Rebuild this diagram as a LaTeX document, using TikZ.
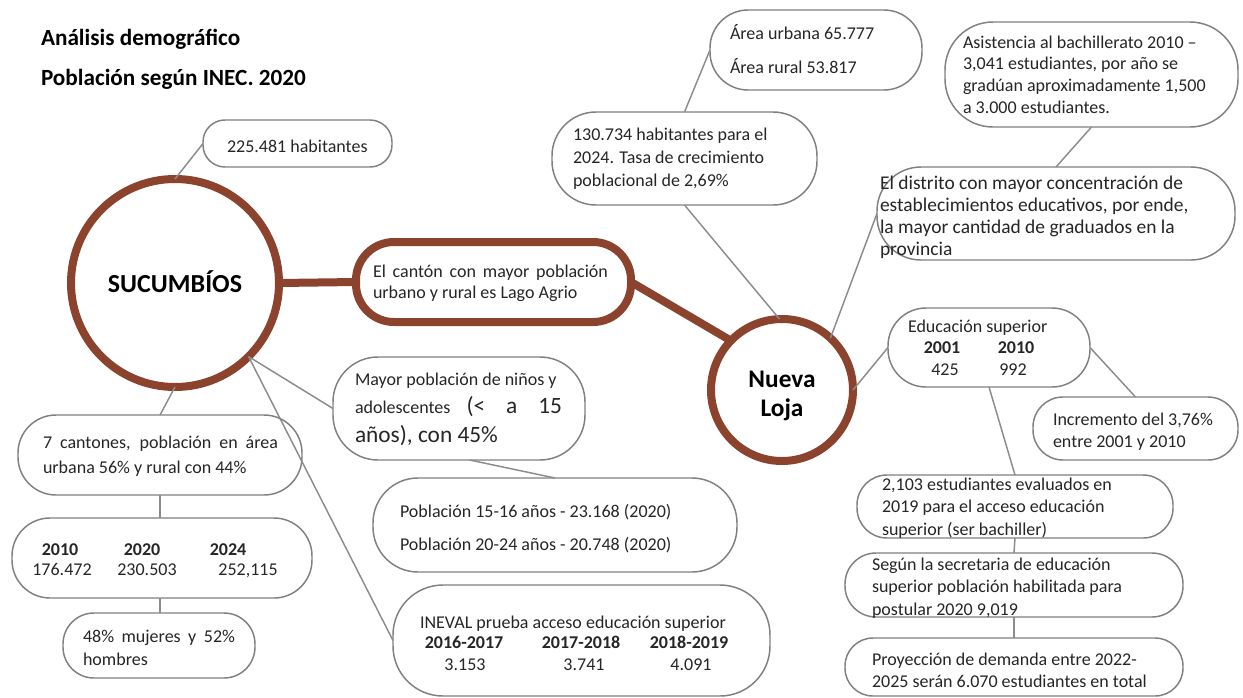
\documentclass[tikz,border=0pt]{standalone}
\usepackage{fontspec}
\setmainfont{Carlito}
\definecolor{brn}{RGB}{139,67,46}
\definecolor{bgray}{RGB}{128,128,128}
\definecolor{lgray}{RGB}{140,140,140}
\definecolor{txt}{RGB}{38,38,38}
\newcommand{\txtblock}[2]{\parbox[t]{330pt}{\fontsize{13.5}{#1}\selectfont\raggedright #2}}
\tikzset{
  bx/.style={draw=bgray, line width=1.1pt, rounded corners=#1, inner sep=0pt, outer sep=0pt},
  conn/.style={draw=lgray, line width=1.1pt},
  brownline/.style={draw=brn, line width=6pt},
  bigcirc/.style={circle, draw=brn, line width=6pt, inner sep=0pt, outer sep=0pt},
  tx/.style={inner sep=0pt, outer sep=0pt, anchor=base west, text=txt, font=\fontsize{13.5}{16}\selectfont},
  ctx/.style={tx, anchor=base},
  ttl/.style={inner sep=0pt, outer sep=0pt, anchor=base west, text=black, font=\fontsize{17.4}{20}\selectfont\bfseries},
}
\begin{document}
\begin{tikzpicture}[x=0.75pt,y=-0.75pt]
\fill[white] (0,0) rectangle (1243,697);
\useasboundingbox (0,0) rectangle (1243,697);

% titles
\node[ttl] (ti1) at (41,45) {Análisis demográfico};
\node[ttl] (ti2) at (41,85) {Población según INEC. 2020};

% main circles and brown box
\node[bigcirc, minimum size=156pt] (suc) at (175,283) {};
\node[bigcirc, minimum size=106.5pt] (nl) at (782,390) {};
\node[bx=28.5pt, draw=brn, line width=6pt, minimum width=206.25pt, minimum height=60pt] (lago) at (493.5,282) {};

% boxes
\node[bx=16.5pt, minimum width=141.75pt, minimum height=35.25pt] (b225) at (297.5,143.5) {};
\node[bx=33pt, minimum width=198.75pt, minimum height=69.75pt] (b130) at (684.5,158.5) {};
\node[bx=28.5pt, minimum width=159pt, minimum height=60pt] (barea) at (816,50) {};
\node[bx=36pt, minimum width=219.75pt, minimum height=78.75pt] (basist) at (1091.5,74.5) {};
\node[bx=33pt, minimum width=268.5pt, minimum height=69.75pt] (bdist) at (1056,213.5) {};
\node[bx=28.5pt, minimum width=151.5pt, minimum height=59.25pt] (bedu) at (989,347.5) {};
\node[bx=22.5pt, minimum width=153.75pt, minimum height=47.25pt] (binc) at (1135.5,428.5) {};
\node[bx=22.5pt, minimum width=237pt, minimum height=47.25pt] (b2103) at (1015,506.5) {};
\node[bx=23.25pt, minimum width=253.5pt, minimum height=48pt] (bsegun) at (1014,585) {};
\node[bx=21pt, minimum width=253.5pt, minimum height=43.5pt] (bproy) at (1014,667) {};
\node[bx=28.5pt, minimum width=213pt, minimum height=60pt] (b7) at (160,455) {};
\node[bx=28.5pt, minimum width=225pt, minimum height=60pt] (byears) at (162,558) {};
\node[bx=23.25pt, minimum width=144pt, minimum height=48.75pt] (b48) at (159,645.5) {};
\node[bx=33.75pt, minimum width=189pt, minimum height=77.25pt] (bmayor) at (459,408.5) {};
\node[bx=33.75pt, minimum width=273pt, minimum height=70.5pt] (bpob) at (555,525) {};
\node[bx=37.5pt, minimum width=282.75pt, minimum height=83.25pt] (bineval) at (581.5,640.5) {};

% connectors
\draw[brownline] (suc.east) -- (lago.west);
\draw[brownline] (lago.east) -- (nl.136);
\draw[conn] (suc.north) -- (b225.west);
\draw[conn] (suc.south) -- (b7.north);
\draw[conn] (b7.south) -- (b7.south |- byears.north);
\draw[conn] (b7.south |- byears.south) -- (b7.south |- b48.north);
\draw[conn] (suc.-45) -- (bmayor.west);
\draw[conn] (suc.-45) -- (bineval.west);
\draw[conn] ([xshift=8pt]bmayor.south) -- (bpob.north);
\draw[conn] (b130.north) -- (barea.west);
\draw[conn] (b130.south) -- (nl.92);
\draw[conn] (basist.south) -- (bdist.north);
\draw[conn] (bdist.west) -- (nl.47);
\draw[conn] (nl.east) -- (bedu.west);
\draw[conn] (bedu.east) -- (binc.north);
\draw[conn] (bedu.south) -- (b2103.north);
\draw[conn] (b2103.south) -- (bsegun.north);
\draw[conn] (bsegun.south) -- (bproy.north);

% texts in circles
\node[ctx, text=black, font=\fontsize{19.5}{22}\selectfont\bfseries] (tsuc) at (175,292) {SUCUMBÍOS};
\node[ctx, text=black] (tnl) at (782,387) {\parbox[t]{100pt}{\centering\fontsize{19}{21.75}\selectfont\bfseries Nueva\\Loja}};

% texts in boxes
\node[tx] (tlago) at (373,277) {\txtblock{15.75pt}{\makebox[176.25pt][s]{El cantón con mayor población}\\urbano y rural es Lago Agrio}};
\node[tx] (t225) at (227,152) {225.481 habitantes};
\node[tx] (t130) at (573,140) {\txtblock{17.6pt}{130.734 habitantes para el\\2024. Tasa de crecimiento\\poblacional de 2,69\%}};
\node[tx] (tarea) at (730,39) {\txtblock{25.5pt}{Área urbana 65.777\\Área rural 53.817}};
\node[tx] (tasist) at (963,48) {\txtblock{16.3pt}{Asistencia al bachillerato 2010 –\\3,041 estudiantes, por año se\\gradúan aproximadamente 1,500\\a 3.000 estudiantes.}};
\node[tx] (tdist) at (880,189) {\parbox[t]{330pt}{\fontsize{14.6}{16.5}\selectfont\raggedright El distrito con mayor concentración de\\establecimientos educativos, por ende,\\la mayor cantidad de graduados en la\\provincia}};
\node[tx] (tedu) at (908,332) {Educación superior};
\node[ctx, font=\fontsize{13.5}{16}\selectfont\bfseries] (te1) at (942,353) {2001};
\node[ctx, font=\fontsize{13.5}{16}\selectfont\bfseries] (te2) at (1016,353) {2010};
\node[ctx] (te3) at (945,375) {425};
\node[ctx] (te4) at (1013,375) {992};
\node[tx] (tinc) at (1053,425) {\txtblock{16.5pt}{Incremento del 3,76\%\\entre 2001 y 2010}};
\node[tx] (t2103) at (882,490) {\txtblock{16.9pt}{2,103 estudiantes evaluados en\\2019 para el acceso educación\\superior (ser bachiller)}};
\node[tx] (tsegun) at (872,570) {\txtblock{16.9pt}{Según la secretaria de educación\\superior población habilitada para\\postular 2020 9,019}};
\node[tx] (tproy) at (872,665) {\txtblock{16.5pt}{Proyección de demanda entre 2022-\\2025 serán 6.070 estudiantes en total}};
\node[tx] (t7) at (43,448) {\txtblock{18.75pt}{\makebox[176.25pt][s]{7 cantones, población en área}\\urbana 56\% y rural con 44\%}};
\node[ctx, font=\fontsize{13.5}{16}\selectfont\bfseries] (ty1) at (60,555) {2010};
\node[ctx, font=\fontsize{13.5}{16}\selectfont\bfseries] (ty2) at (142,555) {2020};
\node[ctx, font=\fontsize{13.5}{16}\selectfont\bfseries] (ty3) at (228,555) {2024};
\node[ctx] (ty4) at (62,575) {176.472};
\node[ctx] (ty5) at (147,575) {230.503};
\node[ctx] (ty6) at (248,575) {252,115};
\node[tx] (t48) at (83,642) {\txtblock{17.25pt}{\makebox[114pt][s]{48\% mujeres y 52\%}\\hombres}};
\node[tx] (tm1) at (355,385) {Mayor población de niños y};
\node[tx] (tm2) at (355,413) {\makebox[155.25pt][s]{adolescentes {\fontsize{17.5}{20}\selectfont (< a 15}}};
\node[tx, font=\fontsize{17.5}{20}\selectfont] (tm3) at (355,442) {años), con 45\%};
\node[tx] (tpob) at (400,517) {\txtblock{24.75pt}{Población 15-16 años - 23.168 (2020)\\Población 20-24 años - 20.748 (2020)}};
\node[tx] (tin) at (420,628) {INEVAL prueba acceso educación superior};
\node[ctx, font=\fontsize{13.5}{16}\selectfont\bfseries] (ti1y) at (464,648) {2016-2017};
\node[ctx, font=\fontsize{13.5}{16}\selectfont\bfseries] (ti2y) at (581,648) {2017-2018};
\node[ctx, font=\fontsize{13.5}{16}\selectfont\bfseries] (ti3y) at (689,648) {2018-2019};
\node[ctx] (ti1v) at (465,670) {3.153};
\node[ctx] (ti2v) at (584,670) {3.741};
\node[ctx] (ti3v) at (691,670) {4.091};
\end{tikzpicture}
\end{document}
